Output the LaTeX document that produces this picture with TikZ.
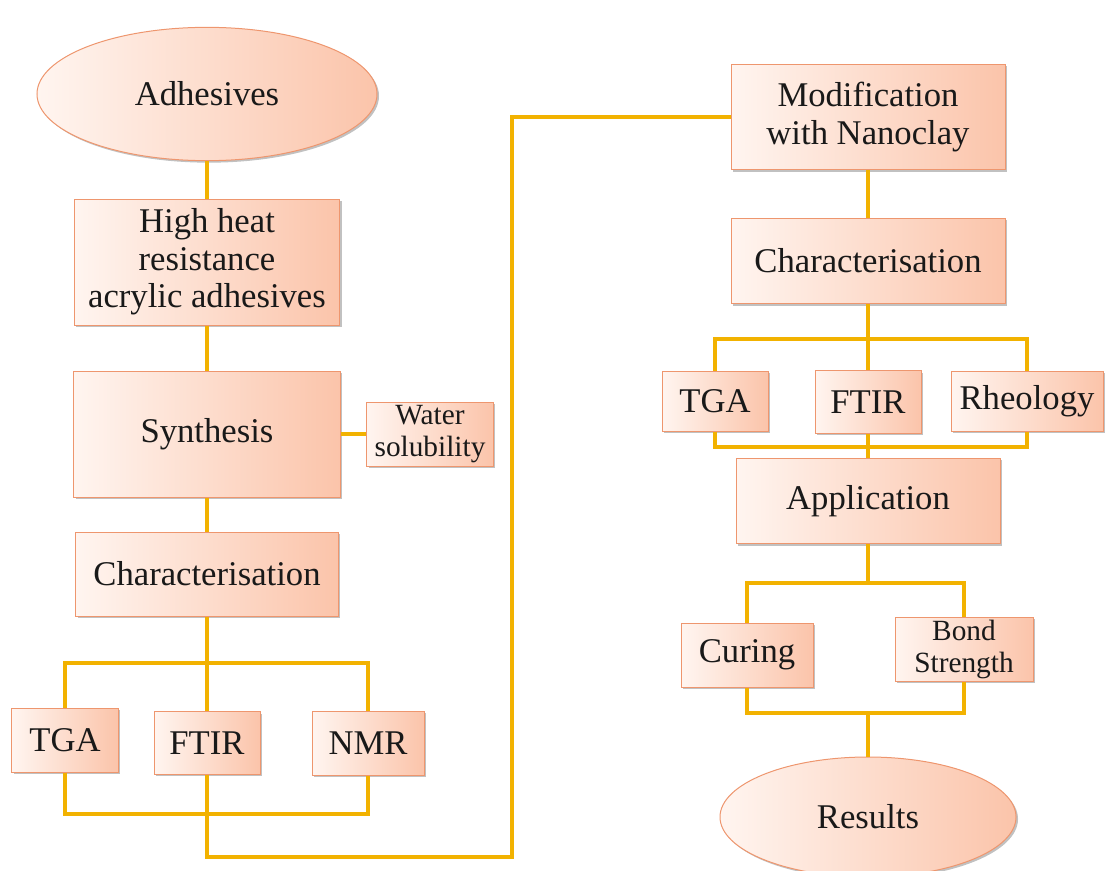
\documentclass[tikz,border=0pt]{standalone}
\usepackage{fontspec}
\setmainfont{Liberation Serif}
\usetikzlibrary{shapes.geometric,shadows}

\definecolor{boxlight}{RGB}{255,245,240}
\definecolor{boxdark}{RGB}{251,196,170}
\definecolor{boxedge}{RGB}{238,150,110}
\definecolor{linkcol}{RGB}{242,178,0}

\tikzset{every picture/.style={line width=0.75pt}}
\tikzset{
  stage/.style={draw=boxedge, left color=boxlight, right color=boxdark,
    align=center, inner sep=1pt, text=black!90,
    font=\fontsize{26}{28}\selectfont,
    drop shadow={shadow xshift=1.5pt, shadow yshift=-1.5pt, opacity=0.35, fill=black!70}},
  smallstage/.style={stage, font=\fontsize{22}{24}\selectfont},
  oval/.style={stage, ellipse},
  link/.style={draw=linkcol, line width=2.8pt},
}

\begin{document}
\begin{tikzpicture}[x=0.75pt,y=0.75pt,yscale=-1,xscale=1]
\clip (0,0) rectangle (1105,870);

% left column
\node [oval, minimum width=255pt, minimum height=100pt] (adh) at (207,94) {Adhesives};
\node [stage, minimum width=199pt, minimum height=94.5pt] (heat) at (207,262) {High heat\\resistance\\acrylic adhesives};
\node [stage, minimum width=200pt, minimum height=94.5pt] (synth) at (207,434) {Synthesis};
\node [smallstage, minimum width=95pt, minimum height=48pt] (water) at (430,434) {Water\\solubility};
\node [stage, minimum width=197pt, minimum height=63pt] (charL) at (207,574) {Characterisation};
\node [stage, minimum width=80pt, minimum height=48pt] (tgaL) at (65,740) {TGA};
\node [stage, minimum width=79.5pt, minimum height=47pt] (ftirL) at (207,743) {FTIR};
\node [stage, minimum width=84pt, minimum height=48pt] (nmrL) at (368,743) {NMR};

% right column
\node [stage, minimum width=205.5pt, minimum height=79pt] (nano) at (868,117) {Modification\\with Nanoclay};
\node [stage, minimum width=205.5pt, minimum height=64pt] (charR) at (868,261) {Characterisation};
\node [stage, minimum width=79.5pt, minimum height=45pt] (tgaR) at (715,401) {TGA};
\node [stage, minimum width=79.5pt, minimum height=47pt] (ftirR) at (868,402) {FTIR};
\node [stage, minimum width=114pt, minimum height=45pt] (rheo) at (1027,401) {Rheology};
\node [stage, minimum width=198pt, minimum height=64pt] (appl) at (868,501) {Application};
\node [stage, minimum width=99pt, minimum height=48pt] (cure) at (747,655) {Curing};
\node [smallstage, minimum width=103.5pt, minimum height=48pt] (bond) at (964,649) {Bond\\Strength};
\node [oval, minimum width=222pt, minimum height=90pt] (res) at (868,817) {Results};

% branch points
\coordinate (forkL) at (207,663);
\coordinate (joinL) at (207,814);
\coordinate (detour) at (512,857);
\coordinate (forkR) at (868,339);
\coordinate (joinR) at (868,447);
\coordinate (forkA) at (868,583);
\coordinate (joinA) at (868,713);

% connectors
\draw [link] (adh) -- (heat);
\draw [link] (heat) -- (synth);
\draw [link] (synth) -- (water);
\draw [link] (synth) -- (charL);
\draw [link] (charL.south) -- (forkL);
\draw [link] (tgaL.north) |- (forkL) -| (nmrL.north);
\draw [link] (forkL) -- (ftirL.north);
\draw [link] (tgaL.south) |- (joinL) -| (nmrL.south);
\draw [link] (ftirL.south) |- (detour) |- (nano.west);
\draw [link] (nano) -- (charR);
\draw [link] (charR.south) -- (forkR);
\draw [link] (tgaR.north) |- (forkR) -| (rheo.north);
\draw [link] (forkR) -- (ftirR.north);
\draw [link] (tgaR.south) |- (joinR) -| (rheo.south);
\draw [link] (ftirR) -- (appl);
\draw [link] (appl.south) -- (forkA);
\draw [link] (cure.north) |- (forkA) -| (bond.north);
\draw [link] (cure.south) |- (joinA) -| (bond.south);
\draw [link] (joinA) -- (res.north);

\end{tikzpicture}
\end{document}
